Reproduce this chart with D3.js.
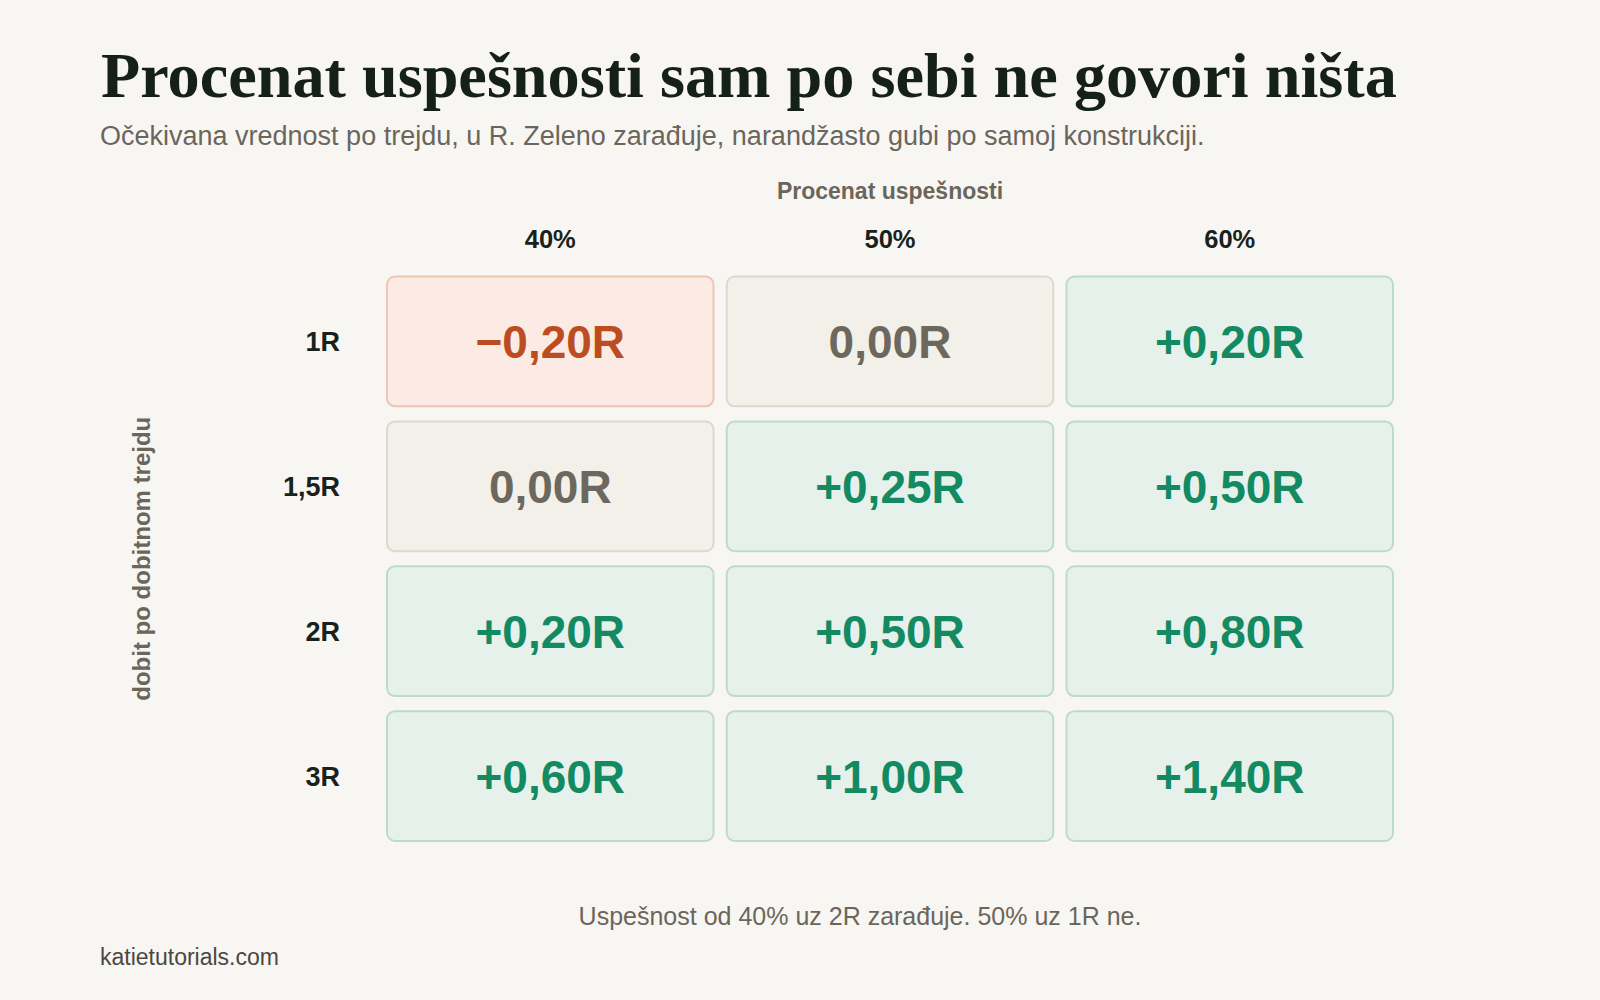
<!DOCTYPE html>
<html>
<head>
<meta charset="utf-8">
<script src="https://cdn.jsdelivr.net/npm/d3@7"></script>
<style>
  body { margin: 0; background: #f8f6f2; }
</style>
</head>
<body>
<div id="chart"></div>
<script>
// procenat uspesnosti (kolone) i dobit po dobitnom trejdu (redovi)
var winRates = ["40%", "50%", "60%"];
var rewards = ["1R", "1,5R", "2R", "3R"];
// ocekivana vrednost u R, red po red
var expectancy = [
  [-0.20, 0.00, 0.20],
  [0.00, 0.25, 0.50],
  [0.20, 0.50, 0.80],
  [0.60, 1.00, 1.40]
];

var width = 1600, height = 1000;
var sans = "'Liberation Sans', Arial, sans-serif";

var colors = {
  neg:  { fill: "#fcebe4", stroke: "#eec4b3", text: "#bb4d20" },
  zero: { fill: "#f3f0ea", stroke: "#ddd8cf", text: "#6d685d" },
  pos:  { fill: "#e7f1ec", stroke: "#bcdad0", text: "#138a62" }
};

var locale = d3.formatLocale({ decimal: ",", thousands: ".", grouping: [3], currency: ["", ""], minus: "\u2212" });
var fmt = locale.format("+.2f");
var label = function (v) {
  if (v === 0) return locale.format(".2f")(0) + "R";
  return fmt(v) + "R";
};
var kind = function (v) { return v < 0 ? "neg" : (v === 0 ? "zero" : "pos"); };

var svg = d3.select("#chart").append("svg")
  .attr("width", width)
  .attr("height", height)
  .style("background", "#f8f6f2");

var x = d3.scaleBand()
  .domain(winRates)
  .range([386, 1394])
  .paddingInner(0.033);

var y = d3.scaleBand()
  .domain(rewards)
  .range([275.5, 842])
  .paddingInner(0.09);

// naslov
var title = svg.append("text")
  .attr("x", 101)
  .attr("y", 97)
  .style("font-family", "'Liberation Serif', 'Times New Roman', serif")
  .style("font-weight", "bold")
  .style("font-size", "64px")
  .style("fill", "#15201a")
  .text("Procenat uspešnosti sam po sebi ne govori ništa");
var tw = title.node().getComputedTextLength();
title.style("font-size", (64 * 1296 / tw) + "px");

svg.append("text")
  .attr("x", 100)
  .attr("y", 145)
  .style("font-family", sans)
  .style("font-size", "27px")
  .style("fill", "#6b665c")
  .text("Očekivana vrednost po trejdu, u R. Zeleno zarađuje, narandžasto gubi po samoj konstrukciji.");

// naslovi osa
svg.append("text")
  .attr("x", (x.range()[0] + x.range()[1]) / 2)
  .attr("y", 199)
  .attr("text-anchor", "middle")
  .style("font-family", sans)
  .style("font-weight", "bold")
  .style("font-size", "23px")
  .style("fill", "#6b665c")
  .text("Procenat uspešnosti");

svg.append("text")
  .attr("transform", "translate(150," + ((y.range()[0] + y.range()[1]) / 2) + ") rotate(-90)")
  .attr("text-anchor", "middle")
  .style("font-family", sans)
  .style("font-weight", "bold")
  .style("font-size", "24px")
  .style("fill", "#6b665c")
  .text("dobit po dobitnom trejdu");

// ose
var xAxis = svg.append("g")
  .attr("transform", "translate(0," + y.range()[0] + ")")
  .call(d3.axisTop(x).tickSize(0).tickPadding(27.5));
var yAxis = svg.append("g")
  .attr("transform", "translate(" + x.range()[0] + ",0)")
  .call(d3.axisLeft(y).tickSize(0).tickPadding(46));

[xAxis, yAxis].forEach(function (g) {
  g.select(".domain").remove();
  g.selectAll("text")
    .style("font-family", sans)
    .style("font-weight", "bold")
    .style("fill", "#18221c");
});
xAxis.selectAll("text").style("font-size", "25.5px");
yAxis.selectAll("text").style("font-size", "27px").attr("dy", "0.36em");

// celije
var cells = [];
expectancy.forEach(function (row, i) {
  row.forEach(function (v, j) {
    cells.push({ r: rewards[i], w: winRates[j], v: v });
  });
});

var cell = svg.append("g").selectAll("g")
  .data(cells)
  .enter()
  .append("g")
  .attr("transform", function (d) { return "translate(" + x(d.w) + "," + y(d.r) + ")"; });

cell.append("rect")
  .attr("x", 1)
  .attr("y", 1)
  .attr("width", x.bandwidth() - 2)
  .attr("height", y.bandwidth() - 2)
  .attr("rx", 8)
  .style("fill", function (d) { return colors[kind(d.v)].fill; })
  .style("stroke", function (d) { return colors[kind(d.v)].stroke; })
  .style("stroke-width", 2);

cell.append("text")
  .attr("x", x.bandwidth() / 2)
  .attr("y", y.bandwidth() / 2)
  .attr("dy", "0.36em")
  .attr("text-anchor", "middle")
  .style("font-family", sans)
  .style("font-weight", "bold")
  .style("font-size", "46px")
  .style("fill", function (d) { return colors[kind(d.v)].text; })
  .text(function (d) { return label(d.v); });

// napomena i izvor
svg.append("text")
  .attr("x", 860)
  .attr("y", 925)
  .attr("text-anchor", "middle")
  .style("font-family", sans)
  .style("font-size", "25px")
  .style("fill", "#6b665c")
  .text("Uspešnost od 40% uz 2R zarađuje. 50% uz 1R ne.");

svg.append("text")
  .attr("x", 100)
  .attr("y", 965)
  .style("font-family", sans)
  .style("font-size", "23px")
  .style("fill", "#4a4842")
  .text("katietutorials.com");
</script>
</body>
</html>
